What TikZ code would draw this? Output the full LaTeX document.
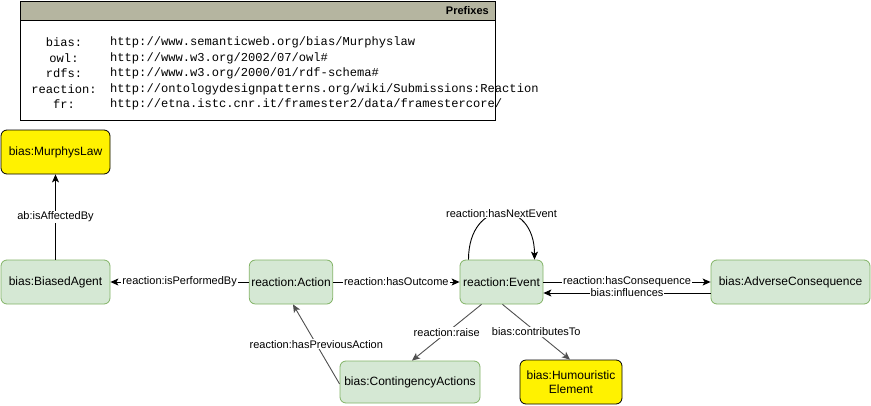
\documentclass[tikz,border=0pt]{standalone}
\usepackage{fontspec}
\setmainfont{Liberation Sans}
\newfontfamily\monof{Liberation Mono}
\usetikzlibrary{arrows.meta}
\definecolor{gfill}{HTML}{D5E8D4}
\definecolor{gline}{HTML}{82B366}
\definecolor{hdr}{RGB}{181,181,160}
\definecolor{dgray}{RGB}{80,80,80}
\tikzset{
  cls/.style={draw=gline, fill=gfill, rounded corners=6pt, minimum height=44pt, inner sep=2pt, font=\fontsize{12}{14}\selectfont, line width=0.8pt},
  ycls/.style={draw=black, fill=yellow, rounded corners=6pt, minimum height=44pt, inner sep=2pt, font=\fontsize{12}{14}\selectfont, line width=0.8pt, align=center},
  rel/.style={-{Stealth[length=8pt,width=7pt,inset=2pt]}, line width=0.9pt},
  lbl/.style={fill=white, inner sep=1pt, font=\fontsize{11}{12}\selectfont},
  pfx/.style={font=\monof\fontsize{12.1}{14}\selectfont, inner sep=0pt},
}
\begin{document}
\begin{tikzpicture}[x=1pt,y=-1pt]
\useasboundingbox (0,0) rectangle (871,405);
% prefixes box
\fill[hdr] (20,1) rectangle (495,20);
\draw[line width=0.8pt] (20,1) rectangle (495,120);
\draw[line width=0.8pt] (20,20) -- (495,20);
\node[anchor=east, font=\bfseries\fontsize{11}{13}\selectfont, inner sep=0pt] (ptitle) at (489,11) {Prefixes};
\node[pfx] (k1) at (64,42) {bias:};
\node[pfx] (k2) at (64,58) {owl:};
\node[pfx] (k3) at (64,73) {rdfs:};
\node[pfx] (k4) at (64,89) {reaction:};
\node[pfx] (k5) at (64,104) {fr:};
\node[pfx, anchor=west] (u1) at (110,42) {http://www.semanticweb.org/bias/Murphyslaw};
\node[pfx, anchor=west] (u2) at (110,58) {http://www.w3.org/2002/07/owl\#};
\node[pfx, anchor=west] (u3) at (110,73) {http://www.w3.org/2000/01/rdf-schema\#};
\node[pfx, anchor=west] (u4) at (110,89) {http://ontologydesignpatterns.org/wiki/Submissions:Reaction};
\node[pfx, anchor=west] (u5) at (110,104) {http://etna.istc.cnr.it/framester2/data/framestercore/};
% nodes
\node[ycls, minimum width=109pt] (ml) at (55.5,152) {bias:MurphysLaw};
\node[cls, minimum width=109pt] (ba) at (55.5,282) {bias:BiasedAgent};
\node[cls, minimum width=82pt] (ac) at (291,282) {reaction:Action};
\node[cls, minimum width=83pt] (ev) at (501.5,282) {reaction:Event};
\node[cls, minimum width=159pt] (adv) at (790.5,282) {bias:AdverseConsequence};
\node[cls, minimum width=140pt, minimum height=42pt] (ca) at (410,382) {bias:ContingencyActions};
\node[ycls, minimum width=102pt] (hu) at (571,382) {bias:Humouristic\\Element};
% edges
\draw[rel] (ba.north) -- node[lbl] {ab:isAffectedBy} (ml.south);
\draw[rel] (ac.west) -- node[lbl] {reaction:isPerformedBy} (ba.east);
\draw[rel] (ac.east) -- node[lbl] {reaction:hasOutcome} (ev.west);
\draw[rel] ([xshift=-33pt]ev.north) .. controls ([xshift=-33pt,yshift=62pt]ev.north) and ([xshift=33pt,yshift=62pt]ev.north) .. node[lbl, pos=0.5] {reaction:hasNextEvent} ([xshift=33pt]ev.north);
\draw[rel] (ev.east) -- node[lbl] {reaction:hasConsequence} (adv.west);
\draw[rel] ([yshift=-11pt]adv.west) -- node[lbl] {bias:influences} ([yshift=-11pt]ev.east);
\draw[rel, draw=dgray] ([xshift=-20pt]ev.south) -- node[lbl] {reaction:raise} ([xshift=2pt]ca.north);
\draw[rel, draw=dgray] ([xshift=1pt]ev.south) -- node[lbl] {bias:contributesTo} ([xshift=-1pt]hu.north);
\draw[rel, draw=dgray] ([yshift=-2pt]ca.west) -- node[lbl] {reaction:hasPreviousAction} ([xshift=2pt]ac.south);
\end{tikzpicture}
\end{document}
